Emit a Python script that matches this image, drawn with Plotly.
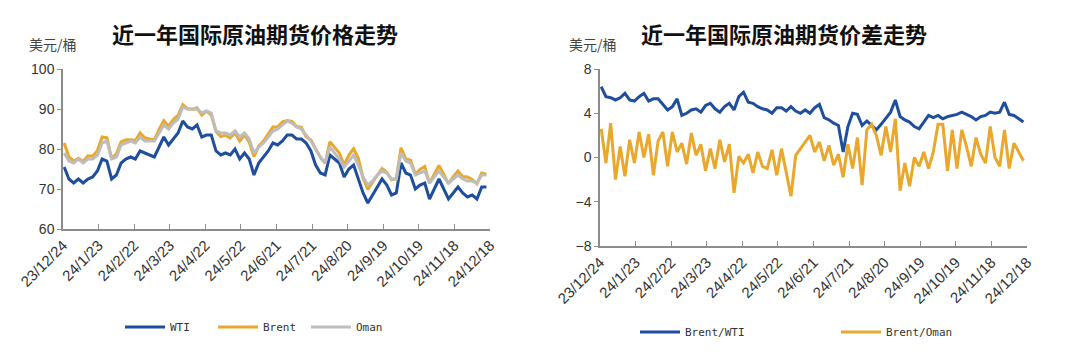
import pandas as pd
import plotly.graph_objects as go

dates = pd.date_range("2023-12-25", periods=90, freq="4D")

wti = [75.5, 72.5, 71.5, 72.5, 71.5, 72.5, 73, 74.5, 77.5, 77,
       72.5, 73.5, 76.5, 77.5, 78, 77.5, 79.5, 79, 78.5, 78,
       80.5, 83, 81, 82.5, 84, 87, 85.5, 85, 86, 83,
       83.5, 83.5, 79.5, 78.5, 79, 78.5, 80, 77.5, 79, 77.5,
       73.5, 76.5, 78, 79.5, 81.5, 81, 82, 83.5, 83.5, 82.5,
       82.5, 81.5, 79.5, 76, 74, 73.5, 78.5, 77.5, 76.5, 73,
       75, 76, 72.5, 69, 66.5, 68.5, 70.5, 72.5, 71, 68.5,
       69, 76.5, 74, 73.5, 70, 71, 71.5, 67.5, 70, 72.5,
       70, 67.5, 69, 70.5, 69, 68, 68.5, 67.5, 70.5, 70.5]

brent = [81.5, 78, 77, 77.7, 76.9, 78.3, 78.2, 79.6, 83, 82.8,
         77.6, 78.8, 81.8, 82.3, 82.3, 82.1, 84, 82.8, 82.5, 82.3,
         84.9, 87.1, 85.7, 87.4, 88.4, 91.1, 90.1, 89.9, 90.3, 88.5,
         89.4, 88.5, 84.4, 83.1, 83.4, 82.8, 84, 82, 83.5, 81.7,
         78.1, 80.7, 82, 83.8, 85.5, 85.5, 86.8, 87.1, 86.9, 85.6,
         85.4, 83, 82.3, 80, 77.9, 76.4, 81.8, 80.4, 79, 76,
         78.5, 80.1, 77.7, 72.7, 69.9, 71.7, 73.3, 75.1, 74.2, 72.3,
         72.6, 80.3, 77.5, 77.2, 73.8, 74.9, 75.6, 71.4, 73.7, 75.9,
         73.7, 71.3, 73.1, 74.5, 73.1, 73, 72.4, 71.3, 74, 73.7]

oman = [79, 77, 76.5, 77.5, 76.5, 77.5, 77.5, 78.5, 81.5, 82,
        77.5, 78, 81, 81.5, 82, 81.5, 83, 82, 82, 82,
        84, 86, 85, 86.5, 87.5, 90.5, 90, 90, 90, 89,
        89.5, 89, 84.5, 84, 84, 83.5, 84.5, 83, 84, 82.5,
        79, 80.5, 81.5, 83, 84.5, 85, 86, 87, 86.5, 85.5,
        85, 83.5, 82, 80, 78, 76.5, 80.5, 79, 77.5, 75.5,
        77, 78.5, 76, 73, 71, 72, 73.5, 74.5, 74, 72.5,
        72.5, 79, 77, 76.5, 73.5, 74, 74.5, 71.5, 73, 74.5,
        73, 71.5, 72.5, 73.5, 72.5, 72, 72, 71.5, 73.5, 73.5]

brent_wti = [6.4, 5.5, 5.4, 5.2, 5.4, 5.8, 5.2, 5.1, 5.5, 5.8,
             5.1, 5.3, 5.3, 4.8, 4.3, 4.6, 5.3, 3.8, 4.0, 4.3,
             4.4, 4.1, 4.7, 4.9, 4.4, 4.1, 4.6, 4.9, 4.3, 5.5,
             5.9, 5.0, 4.9, 4.6, 4.4, 4.3, 4.0, 4.5, 4.5, 4.2,
             4.6, 4.2, 4.0, 4.3, 4.0, 4.5, 4.8, 3.6, 3.4, 3.1,
             2.9, 0.5, 2.8, 4.0, 3.9, 2.9, 3.3, 2.9, 2.5, 3.0,
             3.5, 4.1, 5.2, 3.7, 3.4, 3.2, 2.8, 2.6, 3.2, 3.8,
             3.6, 3.8, 3.5, 3.7, 3.8, 3.9, 4.1, 3.9, 3.7, 3.4,
             3.7, 3.8, 4.1, 4.0, 4.1, 5.0, 3.9, 3.8, 3.5, 3.2]

brent_oman = [2.6, -0.5, 3.1, -2.0, 1.0, -1.7, 1.6, -0.5, 2.3, 0.0,
              2.1, -1.6, 1.5, 2.3, -0.8, 2.3, 0.5, 1.3, -0.6, 2.2,
              0.2, 1.2, -1.2, 0.8, -1.0, 1.6, -0.4, 1.2, -3.2, 0.1,
              -0.5, 0.3, -1.4, 0.5, -0.8, -1.0, 0.7, -1.6, 0.8, -1.2,
              -3.5, 0.2, 0.8, 1.5, 2.0, 0.5, 1.4, -0.3, 1.1, -0.7,
              0.3, -1.8, 1.2, -1.0, 1.8, -2.5, 2.5, 3.0, 2.0, 0.2,
              2.8, 0.5, 3.5, -3.0, -0.5, -2.6, 0.0, -0.8, 0.5, -1.0,
              0.5, 3.0, 3.0, -1.2, 2.5, -1.0, 2.5, 1.0, -0.8, 1.8,
              0.3, -0.5, 2.8, 0.0, -0.8, 2.5, -1.0, 1.3, 0.5, -0.3]

tick_dates = ["2023-12-24", "2024-01-23", "2024-02-22", "2024-03-23", "2024-04-22",
              "2024-05-22", "2024-06-21", "2024-07-21", "2024-08-20", "2024-09-19",
              "2024-10-19", "2024-11-18", "2024-12-18"]
tick_labels = ["23/12/24", "24/1/23", "24/2/22", "24/3/23", "24/4/22", "24/5/22",
               "24/6/21", "24/7/21", "24/8/20", "24/9/19", "24/10/19", "24/11/18", "24/12/18"]

BLUE = "#1f4e9d"
ORANGE = "#e9a82b"
GRAY = "#bdbdbd"
AXIS = "#8c8c8c"
TXT = "#333333"

fig = go.Figure()
lw = 3
fig.add_trace(go.Scatter(x=dates, y=wti, name="WTI", mode="lines", line=dict(color=BLUE, width=lw),
                         xaxis="x", yaxis="y", legend="legend"))
fig.add_trace(go.Scatter(x=dates, y=brent, name="Brent", mode="lines", line=dict(color=ORANGE, width=lw),
                         xaxis="x", yaxis="y", legend="legend"))
fig.add_trace(go.Scatter(x=dates, y=oman, name="Oman", mode="lines", line=dict(color=GRAY, width=lw),
                         xaxis="x", yaxis="y", legend="legend"))
fig.add_trace(go.Scatter(x=dates, y=brent_wti, name="Brent/WTI", mode="lines", line=dict(color=BLUE, width=lw),
                         xaxis="x2", yaxis="y2", legend="legend2"))
fig.add_trace(go.Scatter(x=dates, y=brent_oman, name="Brent/Oman", mode="lines", line=dict(color=ORANGE, width=lw),
                         xaxis="x2", yaxis="y2", legend="legend2"))

xcommon = dict(type="date", range=["2023-12-24", "2024-12-18"], tickmode="array",
               tickvals=tick_dates, ticktext=tick_labels, tickangle=-45, automargin=False,
               showline=True, linecolor=AXIS, linewidth=1.5, ticks="inside", ticklen=5,
               tickcolor=AXIS, showgrid=False, zeroline=False,
               tickfont=dict(family="Liberation Sans", size=15, color=TXT))
ycommon = dict(showline=True, linecolor=AXIS, linewidth=1.5, ticks="outside", ticklen=4,
               tickcolor=AXIS, showgrid=False, zeroline=False, automargin=False,
               tickfont=dict(family="Liberation Sans", size=14, color=TXT))

fig.update_layout(
    width=1080, height=353, margin=dict(l=0, r=0, t=0, b=0, autoexpand=False),
    paper_bgcolor="white", plot_bgcolor="white", showlegend=True,
    xaxis=dict(domain=[63/1080, 490/1080], anchor="y", **xcommon),
    yaxis=dict(domain=[1-229/353, 1-69/353], anchor="x", range=[60, 100], dtick=10, **ycommon),
    xaxis2=dict(domain=[600/1080, 1027/1080], anchor="y2", **xcommon),
    yaxis2=dict(domain=[1-246/353, 1-69/353], anchor="x2", range=[-8, 8], dtick=4, **ycommon),
    legend=dict(orientation="h", x=120/1080, y=1-327/353, xanchor="left", yanchor="middle",
                itemwidth=40, entrywidth=38, entrywidthmode="pixels", bgcolor="rgba(0,0,0,0)",
                font=dict(family="DejaVu Sans Mono", size=11, color=TXT)),
    legend2=dict(orientation="h", x=635/1080, y=1-332/353, xanchor="left", yanchor="middle",
                 itemwidth=40, entrywidth=146, entrywidthmode="pixels", bgcolor="rgba(0,0,0,0)",
                 font=dict(family="DejaVu Sans Mono", size=11, color=TXT)),
)

ann = [
    dict(text="<b>近一年国际原油期货价格走势</b>", x=255/1080, y=1-33/353),
    dict(text="<b>近一年国际原油期货价差走势</b>", x=784/1080, y=1-33/353),
]
for a in ann:
    fig.add_annotation(xref="paper", yref="paper", xanchor="center", yanchor="middle", showarrow=False,
                       font=dict(family="Noto Sans CJK SC", size=22, color="#111111"), **a)
for xx in (53/1080, 593/1080):
    fig.add_annotation(text="美元/桶", xref="paper", yref="paper", x=xx, y=1-44/353,
                       xanchor="center", yanchor="middle", showarrow=False,
                       font=dict(family="Noto Sans CJK SC", size=14, color="#444444"))

fig.write_html("out.html")
